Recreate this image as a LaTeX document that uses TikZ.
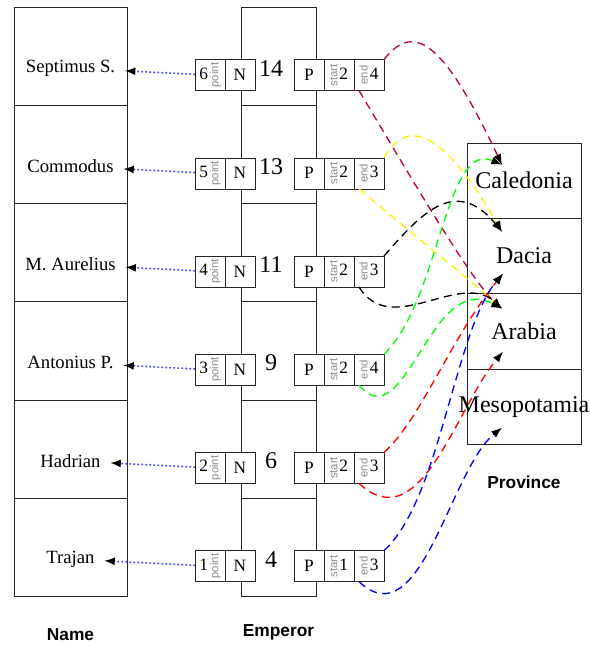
\documentclass[tikz,border=0pt]{standalone}
\usepackage{fontspec}
\setmainfont{Liberation Serif}
\setsansfont{Liberation Sans}
\usepackage{graphicx}
\usepackage{xcolor}
\usetikzlibrary{arrows.meta, positioning, calc}

\newcommand{\cellnote}[1]{$\vcenter{\hbox{\rotatebox{90}{\fontsize{8.5}{9}\sffamily\color{black!45}#1}}}$}

\begin{document}
\begin{tikzpicture}[
    x=0.75pt, y=-0.75pt,
    namebox/.style={draw=black!85, minimum width=84.75pt, minimum height=73.65pt, outer sep=0pt},
    empbox/.style={draw=black!85, minimum width=56.25pt, minimum height=73.65pt, outer sep=0pt},
    provbox/.style={draw=black!85, minimum width=85.5pt, minimum height=56.6pt, outer sep=0pt,
        label={[font=\fontsize{18}{20}\selectfont]center:#1}},
    cell/.style={draw=black!85, fill=white, minimum width=22.5pt, minimum height=23.25pt,
        inner sep=1pt, outer sep=0pt, font=\fontsize{13}{14}\selectfont},
    nametext/.style={font=\fontsize{14}{16}\selectfont, inner sep=7pt},
    numtext/.style={font=\fontsize{18}{20}\selectfont, inner sep=0pt},
    title/.style={font=\sffamily\bfseries\fontsize{13}{15}\selectfont},
    ptr/.style={-{Latex[length=8pt,width=6pt,black]}, blue!75, line width=1.2pt, dash pattern=on 1.2pt off 1.8pt},
    rng/.style={-{Latex[length=8pt,width=6pt,black]}, line width=1pt, dash pattern=on 6pt off 4pt}
]
    \useasboundingbox (0,0) rectangle (589,646);

    % Name and Emperor rows
    \foreach \i/\nm/\pt/\num/\st/\en in {1/Septimus S./6/14/2/4, 2/Commodus/5/13/2/3,
        3/M. Aurelius/4/11/2/3, 4/Antonius P./3/9/2/4, 5/Hadrian/2/6/2/3, 6/Trajan/1/4/1/3} {
        \pgfmathsetmacro{\yc}{56.1+98.2*(\i-1)}
        \node[namebox] (name\i) at (70.5,\yc) {};
        \node[nametext] (nm\i) at ($(name\i.center)+(0,12)$) {\nm};
        \node[empbox] (emp\i) at (278.5,\yc) {};
        \node[cell] (pt\i) at (210,{\yc+19}) {\pt\hspace{1.5pt}\cellnote{point}};
        \node[cell, right=0pt of pt\i] (n\i) {N};
        \node[numtext] (num\i) at (271,{\yc+12}) {\num};
        \node[cell] (p\i) at (309,{\yc+19}) {P};
        \node[cell, right=0pt of p\i] (st\i) {\cellnote{start}\hspace{1.5pt}\st};
        \node[cell, right=0pt of st\i] (en\i) {\cellnote{end}\hspace{1.5pt}\en};
        \draw[ptr] (pt\i) -- (nm\i);
    }

    % Province rows
    \node[provbox=Caledonia] (cal) at (524,180.5) {};
    \node[provbox=Dacia, below=0pt of cal] (dac) {};
    \node[provbox=Arabia, below=0pt of dac] (ara) {};
    \node[provbox=Mesopotamia, below=0pt of ara] (mes) {};

    \coordinate (calT) at ($(cal.north)+(-22,22)$);
    \coordinate (dacT) at ($(dac.north)+(-22,13.5)$);
    \coordinate (araT) at ($(ara.north)+(-22,15)$);
    \coordinate (dacB) at ($(dac.south)+(-21,-20)$);
    \coordinate (araB) at ($(ara.south)+(-21,-17.5)$);
    \coordinate (mesB) at ($(mes.south)+(-22,-17)$);

    % Ranges
    \draw[rng, purple] (en1.north east) .. controls +(31,-40) and +(-57,-120) .. (calT);
    \draw[rng, purple] ($(en1.south west)+(5,0)$) .. controls +(42,70) and +(-32,-29) .. (araT);
    \draw[rng, yellow] (en2.north east) .. controls +(21,-38) and +(-62,-107) .. (dacT);
    \draw[rng, yellow] ($(en2.south west)+(5,0)$) .. controls +(42,36) and +(-32,-29) .. (araT);
    \draw[rng, black] (en3.north east) .. controls +(36,-41) and +(-47,-57) .. (dacT);
    \draw[rng, black] ($(en3.south west)+(5,0)$) .. controls +(32,52) and +(-42,-39) .. (araT);
    \draw[rng, green] (en4.north east) .. controls +(56,-54) and +(-57,-25) .. (calT);
    \draw[rng, green] ($(en4.south west)+(5,0)$) .. controls +(46.5,55) and +(-72,-39) .. (araT);
    \draw[rng, red] (en5.north east) .. controls +(36,-32) and +(-53,66) .. (dacB);
    \draw[rng, red] ($(en5.south west)+(5,0)$) .. controls +(61.5,56.6) and +(-48,58) .. (araB);
    \draw[rng, blue] (en6.north east) .. controls +(56,-50.6) and +(-48,56) .. (dacB);
    \draw[rng, blue] ($(en6.south west)+(5,0)$) .. controls +(61.5,58.4) and +(-52,42) .. (mesB);

    % Titles
    \node[title] (namelbl) at ($(name6.south)+(0,38)$) {Name};
    \node[title] (emplbl) at ($(emp6.south)+(0,36)$) {Emperor};
    \node[title] (provlbl) at ($(mes.south)+(0,38)$) {Province};
\end{tikzpicture}
\end{document}
